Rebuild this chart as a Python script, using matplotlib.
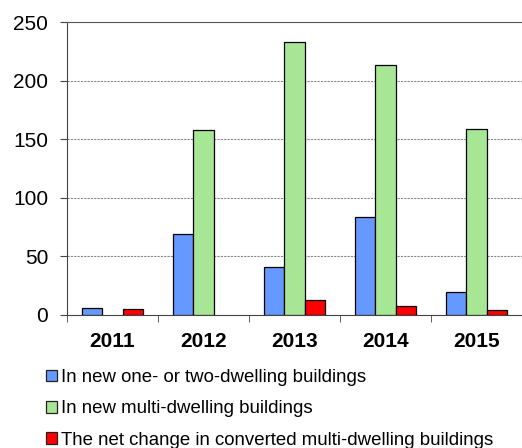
import matplotlib
matplotlib.use("Agg")
import matplotlib.pyplot as plt
from matplotlib.patches import Patch
import numpy as np

plt.rcParams['font.family'] = ['Liberation Sans', 'DejaVu Sans']

years = ["2011", "2012", "2013", "2014", "2015"]
one_two = [6, 69, 41, 84, 20]
multi = [0, 158, 233, 213, 159]
converted = [5, 0, 13, 8, 4]
series_labels = ["In new one- or two-dwelling buildings",
                 "In new multi-dwelling buildings",
                 "The net change in converted multi-dwelling buildings"]
colors = ["#6699FF", "#A6E694", "#FF0000"]
yticks = [0, 50, 100, 150, 200, 250]

fig = plt.figure(figsize=(5.22, 4.48), dpi=100)
ax = fig.add_axes([67/522, 1-315/448, 455/522, 293/448])

x = np.arange(len(years))
w = 0.22
for i, (vals, c) in enumerate(zip([one_two, multi, converted], colors)):
    ax.bar(x + (i-1)*w, vals, w, color=c, edgecolor='black',
           linewidth=[0.9 if v > 0 else 0 for v in vals], zorder=3)

handles = [Patch(facecolor=c, edgecolor='#222222', linewidth=0.9) for c in colors]

ax.set_xlim(-0.5, 4.5)
ax.set_ylim(0, 250)
ax.set_yticks(yticks)
ax.set_yticklabels([str(v) for v in yticks], fontsize=15)
ax.set_xticks(x)
ax.set_xticklabels(years, fontsize=15, fontweight='bold')
ax.set_xticks(np.arange(-0.5, 5.0, 1), minor=True)
ax.tick_params(axis='x', which='major', length=0, pad=12)
ax.tick_params(axis='x', which='minor', length=5, direction='out', color='#444444')
ax.tick_params(axis='y', length=5, direction='out', color='#444444', pad=8.5)

for yv in yticks[1:-1]:
    ax.axhline(yv, color='#888888', linestyle=(0, (2, 1)), linewidth=0.8, zorder=1)

ax.spines['right'].set_visible(False)
ax.spines['top'].set_color('#555555')
ax.spines['left'].set_color('#444444')
ax.spines['bottom'].set_color('#444444')

fig.legend(handles=handles, labels=series_labels, loc='upper left',
           bbox_to_anchor=(46/522, 1-369/448), frameon=False, fontsize=13.4,
           handlelength=0.575, handleheight=0.575, handletextpad=0.22,
           labelspacing=0.77, borderpad=0, borderaxespad=0)

fig.savefig("out.png", dpi=100)
